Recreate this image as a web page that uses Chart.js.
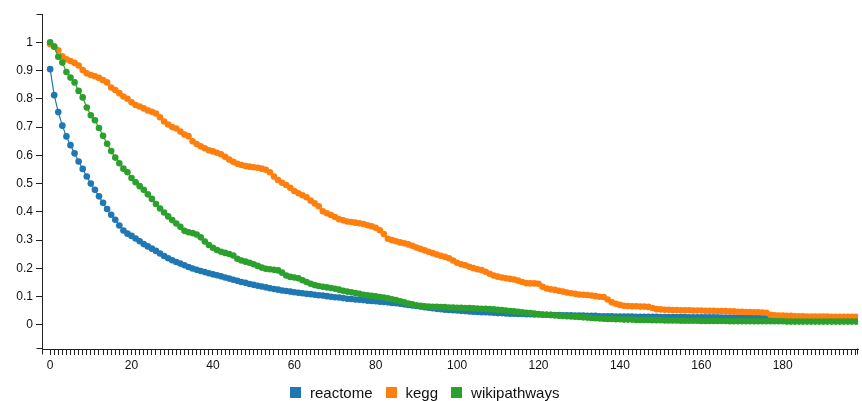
<!DOCTYPE html>
<html>
<head>
<meta charset="utf-8">
<script src="https://cdn.jsdelivr.net/npm/chart.js@4.4.1/dist/chart.umd.min.js"></script>
<style>
  html, body { margin: 0; padding: 0; background: #fff; }
  #wrap { position: relative; width: 862px; height: 401px; }
  #legend { position: absolute; left: 290px; top: 385px; display: flex; align-items: center;
            font: 15px 'Liberation Sans', Arial, sans-serif; color: #111; line-height: 15px; }
  #legend .item { display: flex; align-items: center; margin-right: 13px; }
  #legend .box { display: inline-block; width: 11px; height: 11px; margin-right: 9px; }
</style>
</head>
<body>
<div id="wrap">
  <canvas id="myChart" width="862" height="401"></canvas>
  <div id="legend"></div>
</div>
<script>
const seriesNames = ['reactome', 'kegg', 'wikipathways'];
const colors = ['#1f77b4', '#ff7f0e', '#2ca02c'];

const reactome = [
  0.905, 0.813, 0.753, 0.705, 0.667, 0.636, 0.607, 0.578, 0.552, 0.525,
  0.500, 0.478, 0.455, 0.432, 0.410, 0.390, 0.372, 0.352, 0.334, 0.323,
  0.315, 0.306, 0.296, 0.286, 0.278, 0.270, 0.262, 0.253, 0.244, 0.236,
  0.229, 0.223, 0.217, 0.211, 0.205, 0.200, 0.195, 0.191, 0.187, 0.183,
  0.179, 0.176, 0.172, 0.168, 0.164, 0.160, 0.156, 0.152, 0.149, 0.145,
  0.142, 0.139, 0.136, 0.133, 0.130, 0.127, 0.125, 0.122, 0.120, 0.118,
  0.116, 0.114, 0.112, 0.110, 0.109, 0.107, 0.105, 0.104, 0.102, 0.100,
  0.098, 0.097, 0.095, 0.093, 0.092, 0.090, 0.089, 0.088, 0.086, 0.085,
  0.084, 0.082, 0.081, 0.080, 0.078, 0.077, 0.075, 0.073, 0.071, 0.069,
  0.067, 0.065, 0.063, 0.061, 0.059, 0.057, 0.056, 0.054, 0.053, 0.052,
  0.051, 0.050, 0.049, 0.048, 0.047, 0.046, 0.045, 0.045, 0.044, 0.043,
  0.042, 0.042, 0.041, 0.040, 0.040, 0.039, 0.039, 0.038, 0.038, 0.037,
  0.037, 0.036, 0.036, 0.036, 0.035, 0.035, 0.034, 0.034, 0.034, 0.033,
  0.033, 0.033, 0.032, 0.032, 0.032, 0.031, 0.031, 0.031, 0.031, 0.030,
  0.030, 0.030, 0.030, 0.030, 0.029, 0.029, 0.029, 0.029, 0.029, 0.029,
  0.028, 0.028, 0.028, 0.028, 0.028, 0.028, 0.028, 0.027, 0.027, 0.027,
  0.027, 0.027, 0.027, 0.027, 0.027, 0.026, 0.026, 0.026, 0.026, 0.026,
  0.026, 0.026, 0.025, 0.025, 0.025, 0.025, 0.025, 0.025, 0.025, 0.024,
  0.024, 0.024, 0.024, 0.024, 0.024, 0.023, 0.023, 0.023, 0.023, 0.023,
  0.023, 0.023, 0.022, 0.022, 0.022, 0.022, 0.022, 0.022, 0.022
];

const kegg = [
  0.993, 0.986, 0.972, 0.950, 0.940, 0.934, 0.927, 0.918, 0.902, 0.890,
  0.884, 0.880, 0.874, 0.866, 0.858, 0.840, 0.831, 0.820, 0.808, 0.800,
  0.788, 0.778, 0.773, 0.766, 0.759, 0.754, 0.748, 0.735, 0.720, 0.709,
  0.700, 0.695, 0.684, 0.674, 0.668, 0.650, 0.640, 0.632, 0.625, 0.618,
  0.614, 0.609, 0.604, 0.595, 0.585, 0.577, 0.570, 0.566, 0.562, 0.560,
  0.558, 0.556, 0.553, 0.549, 0.540, 0.525, 0.513, 0.503, 0.495, 0.485,
  0.474, 0.466, 0.459, 0.452, 0.440, 0.430, 0.420, 0.402, 0.395, 0.389,
  0.382, 0.374, 0.370, 0.366, 0.364, 0.362, 0.360, 0.357, 0.353, 0.349,
  0.344, 0.335, 0.322, 0.305, 0.300, 0.296, 0.292, 0.289, 0.285, 0.280,
  0.274, 0.269, 0.264, 0.259, 0.254, 0.249, 0.245, 0.241, 0.236, 0.228,
  0.220, 0.215, 0.211, 0.206, 0.201, 0.197, 0.194, 0.188, 0.181, 0.175,
  0.171, 0.168, 0.165, 0.163, 0.161, 0.157, 0.152, 0.148, 0.147, 0.147,
  0.146, 0.135, 0.129, 0.126, 0.124, 0.121, 0.118, 0.115, 0.112, 0.110,
  0.108, 0.107, 0.106, 0.104, 0.102, 0.100, 0.099, 0.090, 0.080, 0.075,
  0.071, 0.068, 0.067, 0.066, 0.066, 0.065, 0.065, 0.064, 0.060, 0.056,
  0.055, 0.054, 0.054, 0.053, 0.053, 0.052, 0.052, 0.052, 0.051, 0.051,
  0.051, 0.050, 0.050, 0.050, 0.049, 0.049, 0.049, 0.048, 0.048, 0.047,
  0.047, 0.046, 0.046, 0.045, 0.045, 0.044, 0.043, 0.036, 0.034, 0.033,
  0.033, 0.032, 0.032, 0.031, 0.031, 0.031, 0.030, 0.030, 0.030, 0.030,
  0.030, 0.030, 0.029, 0.029, 0.029, 0.029, 0.029, 0.029, 0.029
];

const wikipathways = [
  1.000, 0.984, 0.949, 0.928, 0.895, 0.875, 0.858, 0.828, 0.805, 0.769,
  0.742, 0.724, 0.697, 0.669, 0.641, 0.615, 0.592, 0.572, 0.553, 0.540,
  0.520, 0.505, 0.491, 0.478, 0.462, 0.446, 0.428, 0.412, 0.398, 0.384,
  0.371, 0.359, 0.347, 0.333, 0.328, 0.325, 0.320, 0.310, 0.295, 0.283,
  0.273, 0.265, 0.259, 0.255, 0.251, 0.246, 0.234, 0.228, 0.224, 0.220,
  0.215, 0.209, 0.203, 0.199, 0.197, 0.195, 0.193, 0.185, 0.175, 0.170,
  0.168, 0.165, 0.158, 0.152, 0.146, 0.141, 0.138, 0.135, 0.133, 0.131,
  0.128, 0.125, 0.121, 0.118, 0.116, 0.113, 0.110, 0.107, 0.105, 0.103,
  0.101, 0.099, 0.097, 0.094, 0.091, 0.088, 0.084, 0.080, 0.076, 0.073,
  0.070, 0.068, 0.066, 0.065, 0.064, 0.064, 0.063, 0.063, 0.062, 0.062,
  0.061, 0.061, 0.060, 0.060, 0.059, 0.058, 0.057, 0.057, 0.056, 0.055,
  0.054, 0.053, 0.051, 0.049, 0.048, 0.047, 0.045, 0.043, 0.042, 0.040,
  0.039, 0.037, 0.036, 0.035, 0.034, 0.033, 0.032, 0.031, 0.030, 0.029,
  0.028, 0.027, 0.026, 0.025, 0.024, 0.023, 0.022, 0.021, 0.021, 0.020,
  0.020, 0.019, 0.019, 0.019, 0.018, 0.018, 0.018, 0.018, 0.017, 0.017,
  0.017, 0.016, 0.016, 0.016, 0.016, 0.015, 0.015, 0.015, 0.015, 0.015,
  0.014, 0.014, 0.014, 0.014, 0.014, 0.014, 0.014, 0.013, 0.013, 0.013,
  0.013, 0.013, 0.013, 0.013, 0.013, 0.013, 0.013, 0.013, 0.013, 0.013,
  0.013, 0.012, 0.012, 0.012, 0.012, 0.012, 0.012, 0.012, 0.012, 0.012,
  0.012, 0.012, 0.012, 0.012, 0.012, 0.012, 0.012, 0.012, 0.012
];

// x positions are just the row index
const steps = reactome.map((_, i) => i);
const xLabelEvery = 20;
const yTicks = [0, 0.1, 0.2, 0.3, 0.4, 0.5, 0.6, 0.7, 0.8, 0.9, 1];

const axisColor = '#222';
const font = { family: "'Liberation Sans', Arial, sans-serif", size: 12 };

// little end ticks on the axis lines, like the d3 domain path
const axisEnds = {
  id: 'axisEnds',
  afterDraw(chart) {
    const { ctx, chartArea: a } = chart;
    const l = Math.round(a.left) + 0.5;
    const r = Math.round(a.right) - 0.5;
    const t = Math.round(a.top) + 0.5;
    const b = Math.round(a.bottom) - 0.5;
    ctx.save();
    ctx.strokeStyle = axisColor;
    ctx.lineWidth = 1;
    ctx.beginPath();
    ctx.moveTo(l - 6, t); ctx.lineTo(l, t);
    ctx.moveTo(l - 6, b); ctx.lineTo(l, b);
    ctx.moveTo(l, b); ctx.lineTo(l, b + 6);
    ctx.moveTo(r, b); ctx.lineTo(r, b + 6);
    ctx.stroke();
    ctx.restore();
  }
};

const data = {
  labels: steps,
  datasets: [reactome, kegg, wikipathways].map((values, i) => ({
    label: seriesNames[i],
    data: values,
    borderColor: colors[i],
    backgroundColor: colors[i],
    borderWidth: 1.2,
    pointRadius: 3.3,
    pointBorderWidth: 0,
    pointBackgroundColor: colors[i],
    tension: 0,
    order: 3 - i,
  })),
};

const myChart = new Chart('myChart', {
  type: 'line',
  data,
  plugins: [axisEnds],
  options: {
    responsive: false,
    animation: false,
    layout: { padding: { top: 14, right: 2, left: 0, bottom: 22 } },
    plugins: {
      legend: { display: false },
      tooltip: { enabled: false },
    },
    scales: {
      x: {
        type: 'linear',
        min: -2,
        max: 198.5,
        afterBuildTicks: (scale) => { scale.ticks = steps.map(v => ({ value: v })); },
        afterFit: (scale) => { scale.height = 30; },
        border: { display: true, color: axisColor, width: 1 },
        grid: { drawOnChartArea: false, drawTicks: true, tickLength: 6, tickColor: axisColor, color: axisColor },
        ticks: {
          autoSkip: false,
          maxRotation: 0,
          padding: 3,
          color: '#111',
          font,
          callback: (v) => (v % xLabelEvery === 0 ? String(v) : ''),
        },
      },
      y: {
        min: -0.085,
        max: 1.1,
        afterBuildTicks: (scale) => { scale.ticks = yTicks.map(v => ({ value: v })); },
        afterFit: (scale) => { scale.width = 42; },
        border: { display: true, color: axisColor, width: 1 },
        grid: { drawOnChartArea: false, drawTicks: true, tickLength: 6, tickColor: axisColor, color: axisColor },
        ticks: {
          padding: 3,
          color: '#111',
          font,
          callback: (v) => String(v),
        },
      },
    },
  },
});

const legend = document.getElementById('legend');
seriesNames.forEach((name, i) => {
  const item = document.createElement('span');
  item.className = 'item';
  const box = document.createElement('span');
  box.className = 'box';
  box.style.background = colors[i];
  item.appendChild(box);
  item.appendChild(document.createTextNode(name));
  legend.appendChild(item);
});
</script>
</body>
</html>
